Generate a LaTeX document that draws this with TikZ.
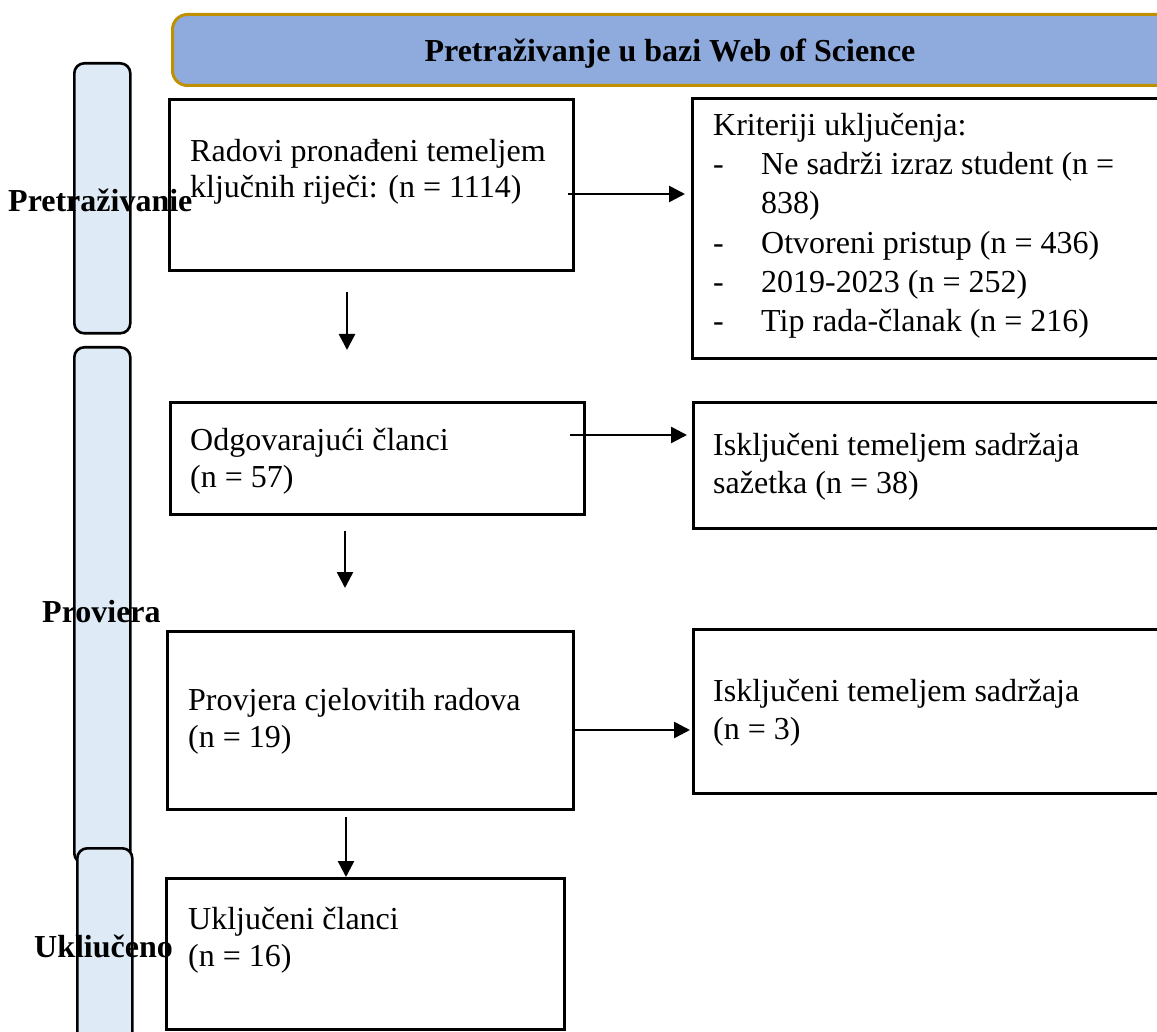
\documentclass[tikz,border=0pt]{standalone}
\usepackage{fontspec}
\setmainfont{Liberation Serif}
\usetikzlibrary{arrows.meta}
\definecolor{hdrfill}{HTML}{8FAADC}
\definecolor{hdrline}{HTML}{BF9000}
\definecolor{barfill}{HTML}{DEEBF7}
\begin{document}
\begin{tikzpicture}[x=1pt,y=-1pt,
  txt/.style={font=\fontsize{32}{38}\selectfont, anchor=base west, inner sep=0pt},
  lbl/.style={font=\fontsize{32}{38}\selectfont\bfseries, anchor=base west, inner sep=0pt},
  flowbox/.style={draw, line width=2.6pt, anchor=north west, inner sep=0pt, fill=white},
  bar/.style={draw, line width=2.6pt, fill=barfill, rounded corners=10pt, anchor=north west, inner sep=0pt},
  arr/.style={line width=2.5pt, -{Triangle[length=16pt,width=16pt]}}]
\useasboundingbox (0,0) rectangle (1157,1032);
\clip (0,0) rectangle (1157,1032);

% header
\node[draw=hdrline, fill=hdrfill, line width=3pt, rounded corners=15pt, anchor=north west,
      minimum width=1029pt, minimum height=71pt, inner sep=0pt] (hdr) at (171,13) {};
\node[font=\fontsize{32}{38}\selectfont\bfseries, anchor=base, inner sep=0pt] (hdrt) at (670,62) {Pretraživanje u bazi Web of Science};

% side bars
\node[bar, minimum width=56pt, minimum height=270pt] (bar1) at (73,62) {};
\node[bar, minimum width=56pt, minimum height=516pt] (bar2) at (73,346) {};
\node[bar, minimum width=55pt, minimum height=220pt] (bar3) at (76,847) {};

% boxes
\node[flowbox, minimum width=404pt, minimum height=171pt] (b1) at (168,98) {};
\node[flowbox, minimum width=520pt, minimum height=260pt] (r1) at (691,97) {};
\node[flowbox, minimum width=414pt, minimum height=112pt] (b2) at (169,401) {};
\node[flowbox, minimum width=520pt, minimum height=126pt] (r2) at (692,401) {};
\node[flowbox, minimum width=406pt, minimum height=178pt] (b3) at (166,630) {};
\node[flowbox, minimum width=520pt, minimum height=164pt] (r3) at (692,628) {};
\node[flowbox, minimum width=398pt, minimum height=151pt] (b4) at (165,877) {};

% texts
\node[txt] (b1a) at (190,162) {Radovi pronađeni temeljem};
\node[txt] (b1b) at (190,198) {ključnih riječi: (n = 1114)};

\node[txt] (r1h) at (713,136) {Kriteriji uključenja:};
\node[txt] (r1d1) at (713,175) {-};
\node[txt] (r1t1) at (761,175) {Ne sadrži izraz student (n =};
\node[txt] (r1t1b) at (761,214) {838)};
\node[txt] (r1d2) at (713,254) {-};
\node[txt] (r1t2) at (761,254) {Otvoreni pristup (n = 436)};
\node[txt] (r1d3) at (713,293) {-};
\node[txt] (r1t3) at (761,293) {2019-2023 (n = 252)};
\node[txt] (r1d4) at (713,332) {-};
\node[txt] (r1t4) at (761,332) {Tip rada-članak (n = 216)};

\node[txt] (b2a) at (190,450) {Odgovarajući članci};
\node[txt] (b2b) at (190,487) {(n = 57)};
\node[txt] (r2a) at (713,455) {Isključeni temeljem sadržaja};
\node[txt] (r2b) at (713,493) {sažetka (n = 38)};

\node[txt] (b3a) at (188,710) {Provjera cjelovitih radova};
\node[txt] (b3b) at (188,747) {(n = 19)};
\node[txt] (r3a) at (713,701) {Isključeni temeljem sadržaja};
\node[txt] (r3b) at (713,739) {(n = 3)};

\node[txt] (b4a) at (188,929) {Uključeni članci};
\node[txt] (b4b) at (188,966) {(n = 16)};

% stage labels
\node[lbl] (l1) at (8,212) {Pretraživanie};
\node[lbl] (l2) at (42,622) {Proviera};
\node[lbl] (l3) at (34,957) {Ukliučeno};

% arrows
\coordinate (a1s) at (568,194);
\coordinate (a2s) at (570,435);
\coordinate (a3s) at (572,730);
\draw[arr, shorten >=6pt] (a1s) -- (a1s -| r1.west);
\draw[arr, shorten >=5pt] (a2s) -- (a2s -| r2.west);
\draw[arr, shorten >=2pt] (a3s) -- (a3s -| r3.west);

\coordinate (d1s) at (347,292);
\coordinate (d1e) at (347,350);
\coordinate (d2s) at (345,531);
\coordinate (d2e) at (345,588);
\coordinate (d3s) at (346,817);
\draw[arr] (d1s) -- (d1e);
\draw[arr] (d2s) -- (d2e);
\draw[arr] (d3s) -- (d3s |- b4.north);
\end{tikzpicture}
\end{document}
